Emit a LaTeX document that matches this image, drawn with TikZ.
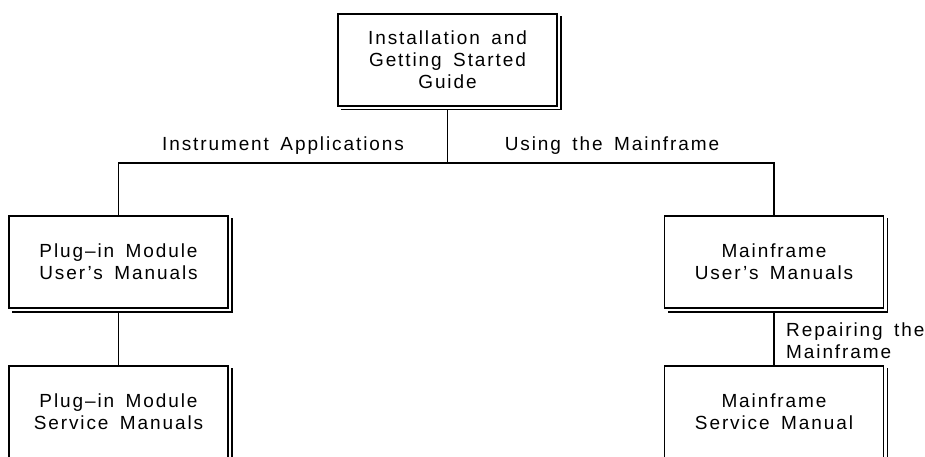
\documentclass[tikz,border=0pt]{standalone}
\usepackage{fontspec}
\setmainfont{Liberation Sans}[LetterSpace=10,WordSpace=1.6]
\begin{document}
\begin{tikzpicture}[x=1pt,y=-1pt,
  box/.style={draw,line width=1.6pt,minimum width=219pt,minimum height=92pt,inner sep=0pt,align=center,
    font=\fontsize{19}{22}\selectfont},
  lbl/.style={font=\fontsize{19}{22}\selectfont,inner sep=0pt},
  conn/.style={line width=1.2pt},
  shad/.style={line width=1.4pt}]
\clip (0,0) rectangle (925,457);
\useasboundingbox (0,0) rectangle (925,457);
\node[box] (top) at (447.5,60) {Installation and\\Getting Started\\Guide};
\node[box] (left) at (118.5,262) {Plug–in Module\\User's Manuals};
\node[box] (right) at (774,262) {Mainframe\\User's Manuals};
\node[box] (bl) at (118.5,412) {Plug–in Module\\Service Manuals};
\node[box] (br) at (774,412) {Mainframe\\Service Manual};
\foreach \n in {top,left,right,bl,br}{
  \draw[shad] ([xshift=3pt,yshift=-3pt]\n.north east) |- ([xshift=4pt,yshift=-3pt]\n.south west);
}
\coordinate (j) at (447.5,163);
\draw[conn] ([yshift=-3pt]top.south) -- (j);
\draw[conn] (left.north) |- (j) -| (right.north);
\draw[conn] ([yshift=-3pt]left.south) -- (bl.north);
\draw[conn] ([yshift=-3pt]right.south) -- (br.north);
\node[lbl] (l1) at (283,146) {Instrument Applications};
\node[lbl] (l2) at (612,146) {Using the Mainframe};
\node[lbl,anchor=west,align=left] (l3) at (786,341) {Repairing the\\Mainframe};
\end{tikzpicture}
\end{document}
